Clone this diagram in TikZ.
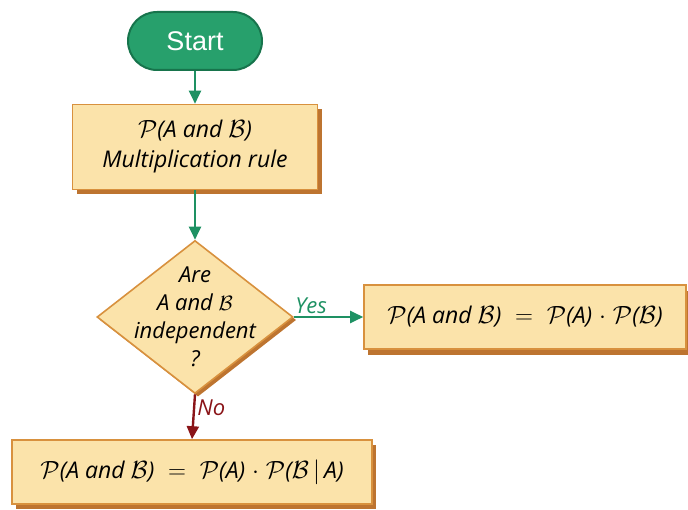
\documentclass[tikz,border=0pt]{standalone}
\usepackage{fontspec}
\setmainfont{Open Sans}
\newfontfamily\startfont{Liberation Sans}
\usetikzlibrary{shapes.geometric,arrows.meta}
\definecolor{boxfill}{HTML}{FBE3AA}
\definecolor{boxedge}{HTML}{D8913E}
\definecolor{boxshadow}{HTML}{BD7430}
\definecolor{startfill}{HTML}{27A06C}
\definecolor{startedge}{HTML}{17744C}
\definecolor{flowgreen}{HTML}{1E9163}
\definecolor{flowred}{HTML}{8A1418}
\tikzset{
  stepbox/.style={rectangle, fill=boxfill, draw=boxedge, line width=1.6pt, inner sep=0pt, align=center, font=\itshape\fontsize{23}{30}\selectfont, text=black},
  shadowbox/.style={rectangle, fill=boxshadow, draw=none, inner sep=0pt},
  decide/.style={diamond, fill=boxfill, draw=boxedge, line width=1.6pt, inner sep=0pt, minimum width=196pt, minimum height=153pt},
  decidetext/.style={align=center, inner sep=0pt, font=\itshape\fontsize{22}{28}\selectfont},
  startnode/.style={rectangle, rounded corners=29pt, fill=startfill, draw=startedge, line width=2pt, text=white, font=\startfont\fontsize{27}{30}\selectfont, minimum width=134pt, minimum height=58pt},
  garrow/.style={draw=flowgreen, line width=2.4pt, -{Triangle[length=13pt,width=12pt]}},
  rarrow/.style={draw=flowred, line width=2.4pt, -{Triangle[length=13pt,width=12pt]}},
  lbl/.style={font=\itshape\fontsize{22}{24}\selectfont, inner sep=2pt},
}
\newcommand{\cP}{$\mathcal{P}$}
\newcommand{\cB}{$\mathcal{B}$}
\newcommand{\eqs}{$\;\;=\;\;$}
\newcommand{\dts}{$\;\cdot\;$}
\begin{document}
\begin{tikzpicture}[x=1pt,y=-1pt]
\useasboundingbox (0,0) rectangle (688,510);
% Start
\node[startnode] (start) at (195,41) {Start};
% box 1
\node[shadowbox, minimum width=245pt, minimum height=85pt] (s1) at (199,152) {};
\node[stepbox, minimum width=245pt, minimum height=85pt] (rule) at (195,147) {\cP(A and \cB)\\Multiplication rule};
% diamond
\node[diamond, fill=boxshadow, inner sep=0pt, minimum width=196pt, minimum height=153pt] (s2) at (198,320) {};
\node[decide] (dec) at (195,317) {};
\node[decidetext] (dectext) at (dec.center) {Are\\A and \cB\\independent\\?};
% yes box
\node[shadowbox, minimum width=322pt, minimum height=64pt] (s3) at (529,323) {};
\node[stepbox, minimum width=322pt, minimum height=64pt] (yes) at (525,317) {\cP(A and \cB)\eqs\cP(A)\dts\cP(\cB)};
% no box
\node[shadowbox, minimum width=360pt, minimum height=64pt] (s4) at (196,477) {};
\node[stepbox, minimum width=360pt, minimum height=64pt] (no) at (192,472) {\cP(A and \cB)\eqs\cP(A)\dts\cP(\cB$\,|\,$A)};
% connectors
\draw[garrow] (start.south) -- (rule.north);
\draw[garrow] (rule.south) -- (dec.north);
\draw[garrow] (dec.east) -- node[lbl, above, pos=0.25, text=flowgreen] {Yes} (yes.west);
\draw[rarrow] (dec.south) -- node[lbl, right, pos=0.3, text=flowred] {No} (no.north);
\end{tikzpicture}
\end{document}
